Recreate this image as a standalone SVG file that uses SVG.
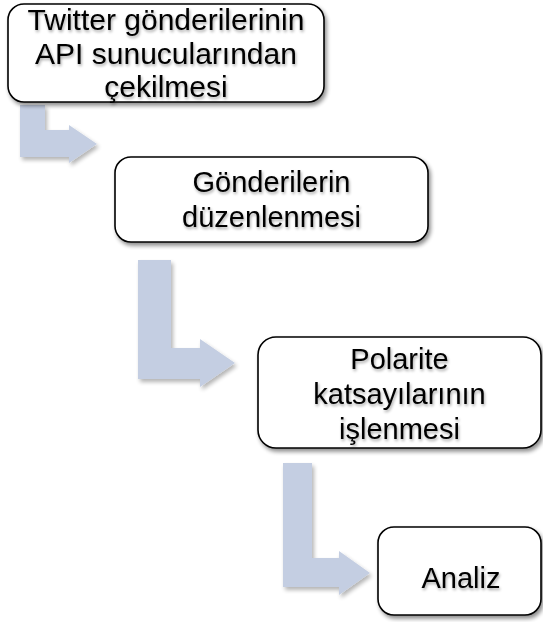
<svg xmlns="http://www.w3.org/2000/svg" width="543" height="622" viewBox="0 0 543 622">
<style>
.box{fill:#ffffff;stroke:#000000;stroke-width:1.6;filter:url(#shadow)}
.arrow{fill:#c4cee2;filter:url(#ashadow)}
.lbl{font-family:"Liberation Sans",Arial,sans-serif;font-size:29px;fill:#000000;text-anchor:middle;filter:url(#tglow)}
</style>
<defs>
<filter id="shadow" x="-10%" y="-10%" width="125%" height="130%">
<feGaussianBlur in="SourceAlpha" stdDeviation="2"/>
<feOffset dx="1.5" dy="2.5" result="b"/>
<feComponentTransfer><feFuncA type="linear" slope="0.45"/></feComponentTransfer>
<feMerge><feMergeNode/><feMergeNode in="SourceGraphic"/></feMerge>
</filter>
<filter id="ashadow" x="-20%" y="-20%" width="150%" height="150%">
<feGaussianBlur in="SourceAlpha" stdDeviation="2"/>
<feOffset dx="1.5" dy="2.5"/>
<feComponentTransfer><feFuncA type="linear" slope="0.3"/></feComponentTransfer>
<feMerge><feMergeNode/><feMergeNode in="SourceGraphic"/></feMerge>
</filter>
<filter id="tglow" x="-10%" y="-30%" width="120%" height="160%">
<feGaussianBlur in="SourceAlpha" stdDeviation="1.5"/>
<feOffset dx="1" dy="1.5"/>
<feComponentTransfer><feFuncA type="linear" slope="0.35"/></feComponentTransfer>
<feMerge><feMergeNode/><feMergeNode in="SourceGraphic"/></feMerge>
</filter>
</defs>
<g id="connectors">
<path class="arrow" d="M20,105 H45 V130 H69 V125 L97,144 L69,163 V157 H20 Z"/>
<path class="arrow" d="M138,260 H171 V348 H200 V339 L235,363 L200,387 V379 H138 Z"/>
<path class="arrow" d="M283,463 H312 V558 H339 V551 L370,573 L339,595 V587 H283 Z"/>
</g>
<g id="node1">
<rect class="box" x="8" y="4" width="316" height="98" rx="16"/>
<text class="lbl" x="166" y="30" style="font-size:30px">Twitter gönderilerinin</text>
<text class="lbl" x="166" y="64" style="font-size:30px">API sunucularından</text>
<text class="lbl" x="166" y="97" style="font-size:30px">çekilmesi</text>
</g>
<g id="node2">
<rect class="box" x="115" y="157" width="313" height="85" rx="16"/>
<text class="lbl" x="271.5" y="192">Gönderilerin</text>
<text class="lbl" x="271.5" y="227">düzenlenmesi</text>
</g>
<g id="node3">
<rect class="box" x="258" y="337" width="283" height="111" rx="18"/>
<text class="lbl" x="399.5" y="369">Polarite</text>
<text class="lbl" x="399.5" y="404">katsayılarının</text>
<text class="lbl" x="399.5" y="439">işlenmesi</text>
</g>
<g id="node4">
<rect class="box" x="378" y="527" width="163" height="88" rx="16"/>
<text class="lbl" x="461" y="588">Analiz</text>
</g>
</svg>
